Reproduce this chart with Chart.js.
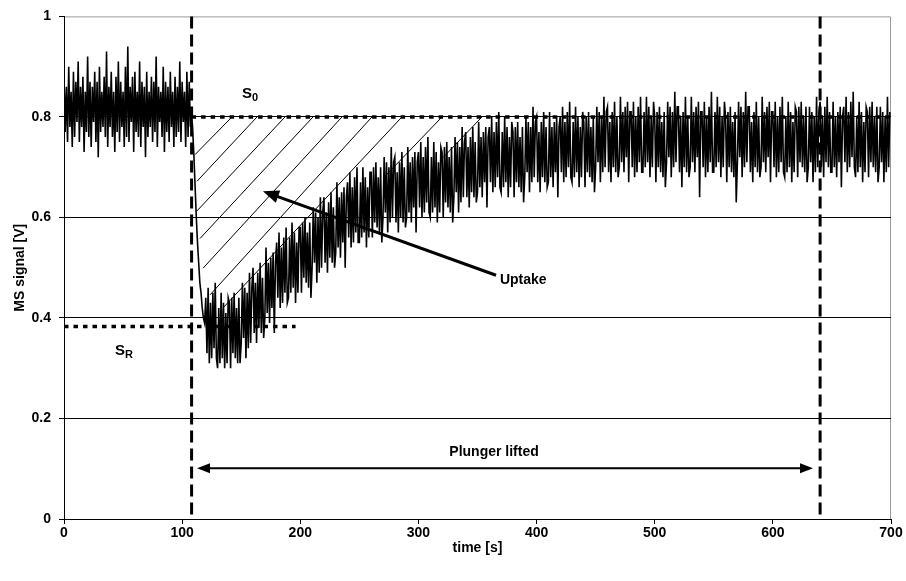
<!DOCTYPE html>
<html>
<head>
<meta charset="utf-8">
<script src="https://cdn.jsdelivr.net/npm/chart.js@4.4.0/dist/chart.umd.min.js"></script>
<style>
    html, body { margin: 0; padding: 0; background: #fff; }
</style>
</head>
<body>
<canvas id="chartMsSignal" width="906" height="581"></canvas>
<script>
// MS signal in hundredths of a volt, one sample per second
// (values follow the upper / lower edge of the noisy trace)
const sampleStep = 1;

const baselineStart = 0;
const baselineSignal = [
    88,77,86,75,90,78,85,74,89,76,87,79,
    91,75,86,78,88,73,85,77,92,76,87,74,
    86,79,89,75,87,72,90,77,85,78,88,76,
    93,74,86,78,89,76,85,73,88,77,91,75,
    87,78,85,74,90,76,94,75,86,79,88,73,
    89,77,85,76,91,74,87,78,86,72,89,76,
    85,78,88,75,87,77,92,74,86,79,85,76,
    90,73,87,77,86,75,89,78,85,74,88,76,
    86,77,91,75,87,79,85,74,89,76,87,78
];

const dropStart = 108;
const dropSignal = [81,77,72,66,60,55,51,47,45,42,40,39];

const recoveryStart = 120;
const recoverySignal = [
    44,33,46,31,43,32,45,34,47,32,
    30,42,31,45,32,43,30,41,31,44,
    43,30,44,33,45,32,42,31,44,31,
    35,47,36,46,32,45,34,49,35,46,
    50,37,47,35,49,38,51,37,48,36,
    40,54,41,51,39,52,42,53,37,51,
    55,44,57,42,54,43,56,45,58,43,
    44,56,45,59,46,57,43,55,45,58,
    58,45,59,48,60,47,57,46,59,44,
    50,62,51,61,47,60,49,64,50,61,
    64,51,61,49,63,52,65,51,62,50,
    53,67,54,64,52,65,55,66,50,64,
    67,56,69,54,66,55,68,57,70,55,
    55,67,56,70,57,68,54,66,56,69,
    69,56,70,59,71,58,68,57,70,55,
    60,72,61,71,57,70,59,74,60,71,
    72,59,69,57,71,60,73,59,70,58,
    60,74,61,71,59,72,62,73,57,71,
    73,62,75,60,72,61,74,63,76,61,
    60,72,61,75,62,73,59,71,61,74,
    73,60,74,63,75,62,72,61,74,59,
    64,76,65,75,61,74,63,78,64,75,
    77,64,74,62,76,65,78,64,75,63,
    65,79,66,76,64,77,67,78,62,76,
    78,67,80,65,77,66,79,68,81,66,
    65,77,66,80,67,78,64,76,66,79,
    77,64,78,67,79,66,76,65,78,63,
    68,80,69,79,65,78,67,82,68,79,
    80,67,77,65,79,68,81,67,78,66,
    67,81,68,78,66,79,69,80,64,78,
    80,69,82,67,79,68,81,70,83,68,
    67,79,68,82,69,80,66,78,68,81,
    79,66,80,69,81,68,78,67,80,65,
    70,82,71,81,67,80,69,84,70,81
];

const plateauStart = 460;
const plateauSignal = [
    82,69,79,67,81,70,83,69,80,68,
    70,84,71,81,69,82,72,83,67,81,
    81,70,83,68,80,69,82,71,84,69,
    69,81,70,84,71,82,68,80,70,83,
    80,67,81,70,82,69,79,68,81,66,
    71,83,72,82,68,81,70,85,71,82,
    82,69,80,66,81,70,84,69,80,68,
    70,84,71,81,69,82,72,83,64,81,
    81,70,83,68,80,69,82,71,85,69,
    69,81,70,84,71,82,68,80,70,83,
    80,67,81,70,82,69,79,68,81,63,
    71,83,72,82,68,81,70,85,71,82,
    82,69,79,67,81,70,83,69,80,68,
    70,84,71,81,69,82,72,83,67,81,
    81,70,83,68,80,69,82,71,84,69,
    68,80,69,83,70,81,67,79,69,82,
    81,68,82,71,83,70,80,69,82,67,
    70,82,71,81,67,80,69,84,70,81,
    83,70,80,68,82,71,84,70,81,69,
    69,83,70,80,68,81,71,82,66,80,
    82,71,84,69,81,70,83,72,85,70,
    68,80,69,83,70,81,67,79,69,82,
    81,68,82,71,83,70,80,69,82,67,
    70,82,71,81,67,80,69,84,70,81
];

// annotations, in axis units (time s, signal V)
const plungerTimes = [108, 640];
const s0Level = 0.8;
const sRLevel = 0.383;
const sREnd = 196;
const hatchLines = [
    [110.9, 0.725, 142.2, 0.80],
    [112.6, 0.672, 163.4, 0.80],
    [112.6, 0.613, 187.1, 0.80],
    [115.1, 0.558, 210.8, 0.80],
    [117.7, 0.499, 235.3, 0.80],
    [123.6, 0.446, 260.7, 0.80],
    [135.4, 0.422, 286.1, 0.80],
    [271.7, 0.682, 320.0, 0.80],
    [320.8, 0.719, 353.8, 0.80]
];
const uptakeArrow = [365.7, 0.485, 168.4, 0.652];
const plungerArrow = [112.6, 634, 0.101];

const FONT = 'Liberation Sans, Arial, sans-serif';

function addSamples(points, startTime, values) {
    for (let i = 0; i < values.length; i++) {
        points.push({ x: startTime + i * sampleStep, y: values[i] / 100 });
    }
}

let signalPoints = [];
addSamples(signalPoints, baselineStart, baselineSignal);
addSamples(signalPoints, dropStart, dropSignal);
addSamples(signalPoints, recoveryStart, recoverySignal);
addSamples(signalPoints, plateauStart, plateauSignal);

function toPx(chart, x, y) {
    return [chart.scales.x.getPixelForValue(x), chart.scales.y.getPixelForValue(y)];
}

function strokeLine(ctx, a, b, width, dash) {
    ctx.save();
    ctx.lineWidth = width;
    ctx.setLineDash(dash || []);
    ctx.lineCap = 'butt';
    ctx.beginPath();
    ctx.moveTo(a[0], a[1]);
    ctx.lineTo(b[0], b[1]);
    ctx.stroke();
    ctx.restore();
}

// shaft from a to b with a filled head at b
function arrow(ctx, a, b, width, len, half) {
    let ang = Math.atan2(b[1] - a[1], b[0] - a[0]);
    let cos = Math.cos(ang), sin = Math.sin(ang);
    let base = [b[0] - len * cos, b[1] - len * sin];
    strokeLine(ctx, a, [base[0] + cos, base[1] + sin], width);
    ctx.beginPath();
    ctx.moveTo(b[0], b[1]);
    ctx.lineTo(base[0] + half * sin, base[1] - half * cos);
    ctx.lineTo(base[0] - half * sin, base[1] + half * cos);
    ctx.closePath();
    ctx.fill();
}

function labelWithSub(ctx, p, main, sub) {
    ctx.font = 'bold 15px ' + FONT;
    ctx.fillText(main, p[0], p[1]);
    let w = ctx.measureText(main).width;
    ctx.font = 'bold 11px ' + FONT;
    ctx.fillText(sub, p[0] + w, p[1] + 3);
}

const overlay = {
    id: 'overlay',
    beforeDraw(chart) {
        let a = chart.chartArea;
        let ctx = chart.ctx;
        ctx.save();
        ctx.strokeStyle = '#9a9a9a';
        ctx.lineWidth = 1;
        ctx.beginPath();
        ctx.moveTo(a.left, a.top + 0.5);
        ctx.lineTo(a.right - 0.5, a.top + 0.5);
        ctx.lineTo(a.right - 0.5, a.bottom);
        ctx.stroke();
        ctx.restore();
    },
    beforeDatasetsDraw(chart) {
        let ctx = chart.ctx;
        ctx.save();
        ctx.strokeStyle = '#000';
        hatchLines.forEach(function (h) {
            strokeLine(ctx, toPx(chart, h[0], h[1]), toPx(chart, h[2], h[3]), 1);
        });
        ctx.restore();
    },
    afterDatasetsDraw(chart) {
        let ctx = chart.ctx;
        let xMax = chart.scales.x.max;
        ctx.save();
        ctx.strokeStyle = '#000';
        ctx.fillStyle = '#000';

        plungerTimes.forEach(function (t) {
            strokeLine(ctx, toPx(chart, t, 1), toPx(chart, t, 0), 3, [12, 6]);
        });
        strokeLine(ctx, toPx(chart, plungerTimes[0], s0Level), toPx(chart, xMax, s0Level), 3.5, [4.5, 5]);
        strokeLine(ctx, toPx(chart, 0, sRLevel), toPx(chart, sREnd, sRLevel), 3.5, [4.5, 5]);

        arrow(ctx, toPx(chart, uptakeArrow[0], uptakeArrow[1]), toPx(chart, uptakeArrow[2], uptakeArrow[3]), 3, 16, 6.5);

        let pl = toPx(chart, plungerArrow[0], plungerArrow[2]);
        let pr = toPx(chart, plungerArrow[1], plungerArrow[2]);
        let mid = [(pl[0] + pr[0]) / 2, pl[1]];
        arrow(ctx, mid, pl, 2, 13, 5);
        arrow(ctx, mid, pr, 2, 13, 5);

        ctx.font = 'bold 14px ' + FONT;
        ctx.textBaseline = 'middle';
        ctx.textAlign = 'left';
        ctx.fillText('Uptake', ...toPx(chart, 369, 0.475));
        ctx.textAlign = 'center';
        ctx.fillText('Plunger lifted', ...toPx(chart, 364, 0.134));

        ctx.textAlign = 'left';
        ctx.textBaseline = 'alphabetic';
        labelWithSub(ctx, toPx(chart, 150.7, 0.837), 'S', '0');
        labelWithSub(ctx, toPx(chart, 43.2, 0.326), 'S', 'R');
        ctx.restore();
    }
};

function initChart() {
    Chart.defaults.font.family = FONT;
    Chart.defaults.color = '#000';

    let canvas = document.getElementById('chartMsSignal');
    new Chart(canvas, {
        type: 'line',
        data: {
            datasets: [
                {
                    label: 'MS signal',
                    data: signalPoints,
                    borderColor: '#000',
                    borderWidth: 1.6,
                    pointRadius: 0,
                    tension: 0,
                    fill: false
                }
            ]
        },
        options: {
            responsive: false,
            animation: false,
            layout: { padding: { top: 10, right: 15, left: 0, bottom: 0 } },
            plugins: {
                legend: { display: false },
                tooltip: { enabled: false }
            },
            scales: {
                x: {
                    type: 'linear',
                    min: 0,
                    max: 700,
                    ticks: { stepSize: 100, padding: 1, font: { size: 14, weight: 'bold' } },
                    grid: { drawOnChartArea: false, tickLength: 5, color: '#000', tickColor: '#000' },
                    border: { color: '#000', width: 1 },
                    title: {
                        display: true,
                        text: 'time [s]',
                        font: { size: 14, weight: 'bold' },
                        padding: { top: 0, bottom: 24 }
                    },
                    afterFit: function (scale) { scale.height = 62; }
                },
                y: {
                    min: 0,
                    max: 1,
                    ticks: {
                        stepSize: 0.2,
                        padding: 8,
                        font: { size: 14, weight: 'bold' },
                        callback: function (v) { return String(Math.round(v * 10) / 10); }
                    },
                    grid: {
                        tickLength: 5,
                        tickColor: '#000',
                        color: function (c) { return c.tick && c.tick.value === 1 ? 'rgba(0,0,0,0)' : '#000'; }
                    },
                    border: { color: '#000', width: 1 },
                    title: {
                        display: true,
                        text: 'MS signal [V]',
                        font: { size: 14, weight: 'bold' },
                        padding: { top: 12, bottom: 0 }
                    },
                    afterFit: function (scale) { scale.width = 64; }
                }
            }
        },
        plugins: [overlay]
    });
}

window.addEventListener('load', initChart);
</script>
</body>
</html>
